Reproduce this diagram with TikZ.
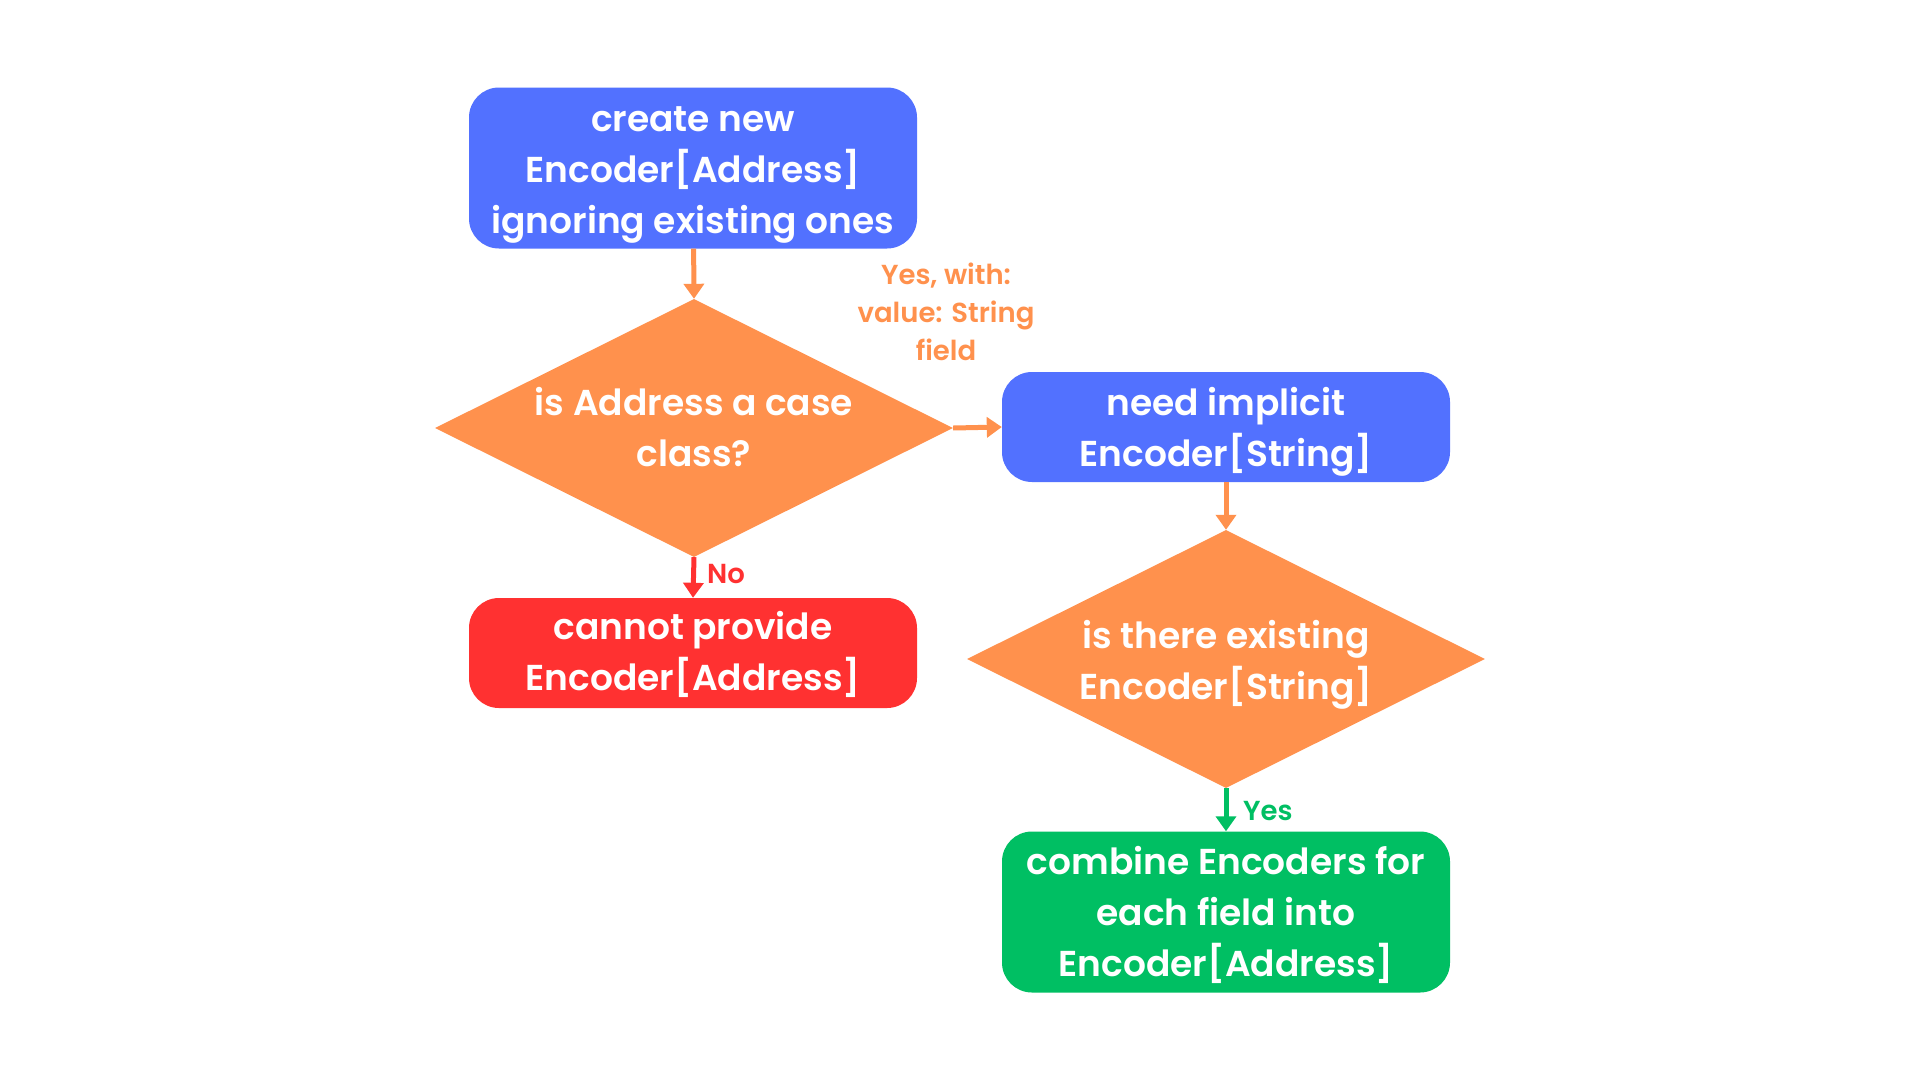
\documentclass[tikz,border=0pt]{standalone}
\usepackage{fontspec}
\setmainfont{Poppins SemiBold}
\usetikzlibrary{shapes.geometric,arrows.meta}
\definecolor{cblue}{HTML}{5271FF}
\definecolor{corange}{HTML}{FF914D}
\definecolor{cred}{HTML}{FF3131}
\definecolor{cgreen}{HTML}{00BF63}
\tikzset{
  box/.style={rectangle, rounded corners=30pt, minimum width=448pt, inner sep=0pt},
  dia/.style={diamond, fill=corange, minimum width=518pt, minimum height=258pt, inner sep=0pt, aspect=2},
  txt/.style={text=white, align=center, font=\fontsize{36}{51}\selectfont, inner sep=0pt},
  lbl/.style={align=center, font=\fontsize{27.5}{38}\selectfont, inner sep=0pt},
  conn/.style={line width=5pt, -{Triangle[width=20pt,length=15pt]}},
}
\begin{document}
\begin{tikzpicture}[x=1pt,y=-1pt]
\useasboundingbox (0,0) rectangle (1920,1080);
\fill[white] (0,0) rectangle (1920,1080);
\node[box, fill=cblue, minimum height=161pt] (create) at (693,168) {};
\node[txt] (createt) at (693,174.5) {create new\\Encoder[Address]\\ignoring existing ones};
\node[dia] (d1) at (694,428) {};
\node[txt] (d1t) at (694,427) {is Address a case\\class?};
\node[box, fill=cblue, minimum height=110pt] (need) at (1226,427) {};
\node[txt] (needt) at (1226,431.5) {need implicit\\Encoder[String]};
\node[box, fill=cred, minimum height=110pt] (cannot) at (693,653) {};
\node[txt] (cannott) at (693,654) {cannot provide\\Encoder[Address]};
\node[dia] (d2) at (1226,659) {};
\node[txt] (d2t) at (1226,664.5) {is there existing\\Encoder[String]};
\node[box, fill=cgreen, minimum height=161pt] (combine) at (1226,912) {};
\node[txt] (combinet) at (1226,915) {combine Encoders for\\each field into\\Encoder[Address]};
\draw[conn, corange] (create) -- (d1.north);
\draw[conn, corange] (d1.east) -- (need.west);
\draw[conn, corange] (need) -- (d2.north);
\draw[conn, cred] (d1.south) -- (cannot.north);
\draw[conn, cgreen] (d2.south) -- (combine.north);
\node[lbl, text=corange] (yeswith) at (946,312) {Yes, with:\\value: String\\field};
\node[lbl, text=cred, anchor=west] (no) at (707,574) {No};
\node[lbl, text=cgreen, anchor=west] (yes) at (1243,811) {Yes};
\end{tikzpicture}
\end{document}
